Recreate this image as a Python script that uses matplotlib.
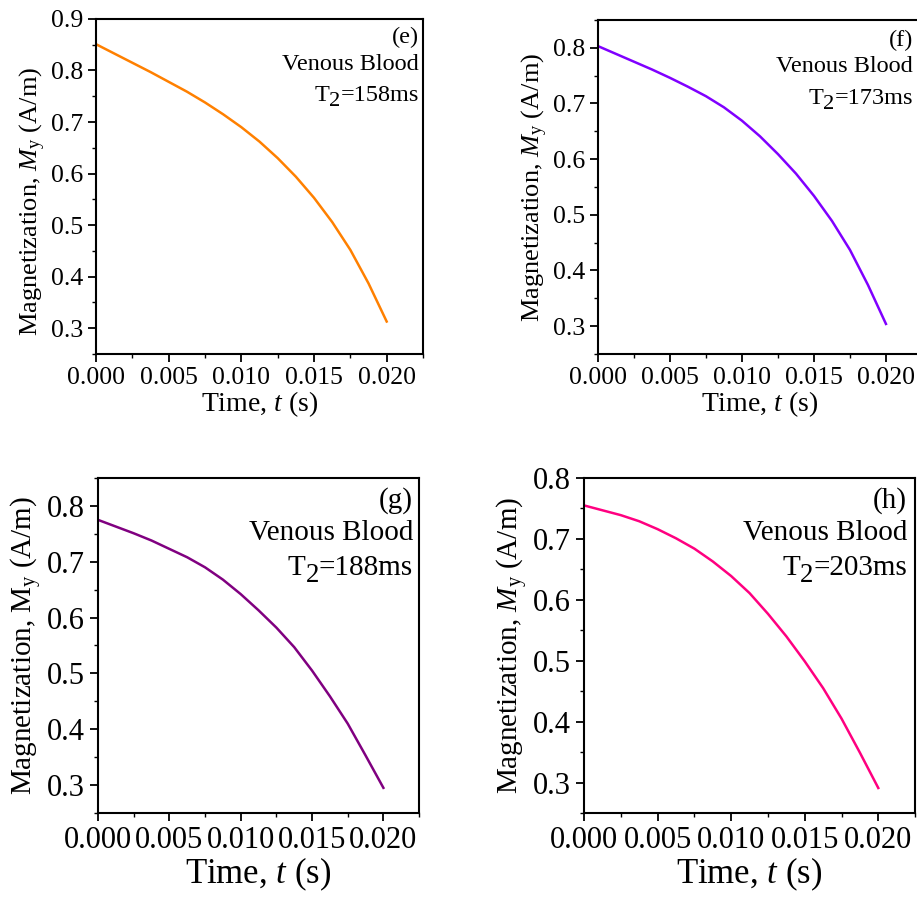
import matplotlib
matplotlib.use("Agg")
import matplotlib.pyplot as plt
from matplotlib.ticker import MultipleLocator, FormatStrFormatter

plt.rcParams['font.family'] = ['Liberation Serif', 'DejaVu Serif']
plt.rcParams['mathtext.fontset'] = 'custom'
plt.rcParams['mathtext.rm'] = 'Liberation Serif'
plt.rcParams['mathtext.it'] = 'Liberation Serif:italic'

t = [0, 0.00125, 0.0025, 0.00375, 0.005, 0.00625, 0.0075, 0.00875, 0.010,
     0.01125, 0.0125, 0.01375, 0.015, 0.01625, 0.0175, 0.01875, 0.020]

m_e = [0.851, 0.833, 0.815, 0.797, 0.778, 0.759, 0.738, 0.715, 0.690,
       0.662, 0.630, 0.594, 0.553, 0.506, 0.452, 0.387, 0.313]
m_f = [0.803, 0.789, 0.775, 0.761, 0.746, 0.730, 0.713, 0.693, 0.669,
       0.641, 0.609, 0.574, 0.534, 0.489, 0.437, 0.374, 0.304]
m_g = [0.775, 0.763, 0.751, 0.738, 0.723, 0.708, 0.690, 0.668, 0.642,
       0.613, 0.582, 0.547, 0.505, 0.459, 0.410, 0.353, 0.295]
m_h = [0.755, 0.747, 0.739, 0.729, 0.716, 0.701, 0.684, 0.663, 0.639,
       0.611, 0.577, 0.540, 0.499, 0.455, 0.405, 0.349, 0.291]

panels = ['(e)', '(f)', '(g)', '(h)']
t2_values = ['=158ms', '=173ms', '=188ms', '=203ms']
colors = ['#FF8000', '#8000FF', '#800080', '#FF0080']
ylims = [(0.25, 0.9), (0.25, 0.85), (0.25, 0.85), (0.25, 0.8)]

# axes rectangles in figure fraction
rects = [
    [0.1047, 0.6058, 0.3566, 0.3731],
    [0.6521, 0.6058, 0.3533, 0.3720],
    [0.1069, 0.0947, 0.3501, 0.3730],
    [0.6369, 0.0947, 0.3610, 0.3730],
]
tick_fs = [18.5, 18.5, 22, 22]
xlab_fs = [20, 20, 25, 25]
ylab_fs = [19, 19, 21, 21]
note_fs = [17.5, 17.5, 21, 21]
note_x = [0.988, 0.972, 0.981, 0.976]
note_y = [(0.946, 0.863, 0.773), (0.94, 0.86, 0.766), (0.934, 0.836, 0.731), (0.934, 0.836, 0.731)]
ylab_pos = [0.455, 0.5, 0.5, 0.5]
ylabels = [r'Magnetization, $\mathit{M}_\mathrm{y}$ (A/m)',
           r'Magnetization, $\mathit{M}_\mathrm{y}$ (A/m)',
           r'Magnetization, $\mathrm{M_y}$ (A/m)',
           r'Magnetization, $\mathit{M}_\mathrm{y}$ (A/m)']

series = [m_e, m_f, m_g, m_h]

fig = plt.figure(figsize=(9.17, 8.98), dpi=100)

for i, m in enumerate(series):
    ax = fig.add_axes(rects[i])
    ax.plot(t, m, color=colors[i], lw=1.8)
    ax.set_xlim(0, 0.0225)
    ax.set_ylim(*ylims[i])
    ax.xaxis.set_major_locator(MultipleLocator(0.005))
    ax.xaxis.set_minor_locator(MultipleLocator(0.0025))
    ax.xaxis.set_major_formatter(FormatStrFormatter('%.3f'))
    ax.yaxis.set_major_locator(MultipleLocator(0.1))
    ax.yaxis.set_minor_locator(MultipleLocator(0.05))
    ax.yaxis.set_major_formatter(FormatStrFormatter('%.1f'))
    ax.tick_params(which='major', direction='out', length=6, width=1.3, labelsize=tick_fs[i])
    ax.tick_params(which='minor', direction='out', length=3, width=1.0)
    for sp in ax.spines.values():
        sp.set_linewidth(1.5)
    ax.set_xlabel(r'Time, $\mathit{t}$ (s)', fontsize=xlab_fs[i], labelpad=0)
    ax.set_ylabel(ylabels[i], fontsize=ylab_fs[i], labelpad=2)
    ax.yaxis.label.set_y(ylab_pos[i])

    fs = note_fs[i]
    ax.text(note_x[i], note_y[i][0], panels[i], transform=ax.transAxes,
            ha='right', va='center', fontsize=fs)
    ax.text(note_x[i], note_y[i][1], 'Venous Blood', transform=ax.transAxes,
            ha='right', va='center', fontsize=fs)
    # "T2=...ms" with a lowered, nearly full-size "2"
    rest = ax.text(note_x[i], note_y[i][2], t2_values[i], transform=ax.transAxes,
                   ha='right', va='center', fontsize=fs)
    two = ax.annotate('2', xy=(0, 0), xycoords=rest, xytext=(0, -0.22 * fs),
                      textcoords='offset points', ha='right', va='bottom',
                      fontsize=fs * 0.92)
    ax.annotate('T', xy=(0, 0), xycoords=two, xytext=(0, 0.22 * fs),
                textcoords='offset points', ha='right', va='bottom', fontsize=fs)

fig.savefig('out.png', dpi=100)
